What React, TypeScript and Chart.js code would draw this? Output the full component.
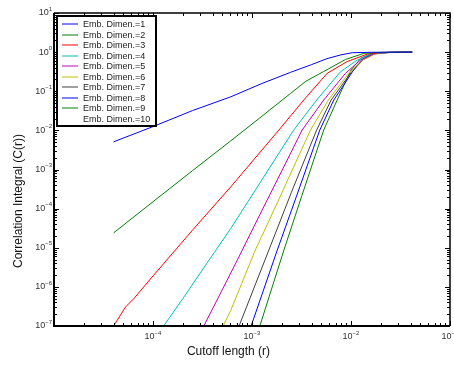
import React, { useEffect, useRef } from "react";
import { Chart, registerables } from "chart.js";

Chart.register(...registerables);

// ---- data (cutoff length r, correlation integral C(r)) ----
const seriesLabels = [
  "Emb. Dimen.=1",
  "Emb. Dimen.=2",
  "Emb. Dimen.=3",
  "Emb. Dimen.=4",
  "Emb. Dimen.=5",
  "Emb. Dimen.=6",
  "Emb. Dimen.=7",
  "Emb. Dimen.=8",
  "Emb. Dimen.=9",
  "Emb. Dimen.=10",
];
const seriesColors = [
  "#0000ff",
  "#008000",
  "#ff0000",
  "#00bfbf",
  "#bf00bf",
  "#bfbf00",
  "#404040",
  "#0000ff",
  "#008000",
  "#ffffff",
];

const dim1: [number, number][] = [
  [4.0e-5, 5.1e-3], [1.0e-4, 1.25e-2], [2.5e-4, 3.2e-2], [6.1e-4, 7.2e-2],
  [1.26e-3, 0.158], [2.45e-3, 0.304], [4.0e-3, 0.48], [5.7e-3, 0.68],
  [7.9e-3, 0.85], [1.03e-2, 0.966], [1.6e-2, 0.99], [2.5e-2, 0.998], [4.15e-2, 1.0],
];
const dim2: [number, number][] = [
  [4.0e-5, 2.4e-5], [1.0e-4, 1.5e-4], [2.5e-4, 9.3e-4], [6.1e-4, 5.4e-3],
  [1.26e-3, 2.3e-2], [2.45e-3, 8.8e-2], [3.5e-3, 0.18], [5.3e-3, 0.32],
  [8.8e-3, 0.65], [1.35e-2, 0.93], [2.0e-2, 0.985], [4.15e-2, 1.0],
];
const dim3: [number, number][] = [
  [4.0e-5, 1.0e-7], [5.3e-5, 3.1e-7], [6.4e-5, 5.0e-7], [1.0e-4, 1.9e-6],
  [2.5e-4, 2.8e-5], [6.1e-4, 3.6e-4], [1.87e-3, 1.02e-2], [3.33e-3, 5.96e-2],
  [5.75e-3, 0.288], [9.1e-3, 0.57], [1.46e-2, 0.89], [2.2e-2, 0.985], [4.15e-2, 1.0],
];
const dim4: [number, number][] = [
  [1.28e-4, 1.0e-7], [2.0e-4, 5.0e-7], [3.5e-4, 4.0e-6], [6.1e-4, 3.1e-5],
  [1.2e-3, 4.5e-4], [2.64e-3, 1.02e-2], [4.5e-3, 5.96e-2], [7.85e-3, 0.316],
  [1.16e-2, 0.63], [1.6e-2, 0.9], [2.3e-2, 0.985], [4.15e-2, 1.0],
];
const dim5: [number, number][] = [
  [3.26e-4, 1.0e-7], [7.1e-4, 4.8e-6], [1.2e-3, 7.0e-5], [2.0e-3, 9.2e-4],
  [3.21e-3, 1.02e-2], [5.3e-3, 5.96e-2], [8.8e-3, 0.288], [1.25e-2, 0.63],
  [1.7e-2, 0.9], [2.4e-2, 0.985], [4.15e-2, 1.0],
];
const dim6: [number, number][] = [
  [5.1e-4, 1.0e-7], [6.1e-4, 2.5e-7], [1.08e-3, 8.7e-6], [1.8e-3, 1.4e-4],
  [3.9e-3, 1.02e-2], [5.9e-3, 5.96e-2], [9.5e-3, 0.29], [1.3e-2, 0.62],
  [1.75e-2, 0.9], [2.5e-2, 0.985], [4.15e-2, 1.0],
];
const dim7: [number, number][] = [
  [7.4e-4, 1.0e-7], [1.48e-3, 8.7e-6], [2.5e-3, 2.6e-4], [4.5e-3, 1.02e-2],
  [6.3e-3, 5.96e-2], [1.0e-2, 0.3], [1.33e-2, 0.64], [1.75e-2, 0.91],
  [2.6e-2, 0.985], [4.15e-2, 1.0],
];
const dim8: [number, number][] = [
  [9.8e-4, 1.0e-7], [1.8e-3, 8.7e-6], [2.8e-3, 2.0e-4], [4.84e-3, 1.02e-2],
  [6.7e-3, 5.96e-2], [1.03e-2, 0.31], [1.3e-2, 0.66], [1.65e-2, 0.92],
  [2.5e-2, 0.985], [4.15e-2, 1.0],
];
const dim9: [number, number][] = [
  [1.2e-3, 1.0e-7], [2.1e-3, 8.7e-6], [3.2e-3, 2.2e-4], [5.3e-3, 1.02e-2],
  [7.25e-3, 5.96e-2], [1.0e-2, 0.35], [1.26e-2, 0.7], [1.6e-2, 0.92],
  [2.4e-2, 0.985], [4.15e-2, 1.0],
];
const dim10: [number, number][] = [];

const seriesData = [dim1, dim2, dim3, dim4, dim5, dim6, dim7, dim8, dim9, dim10];

const xTickExponents = [-4, -3, -2, -1];
const yTickExponents = [1, 0, -1, -2, -3, -4, -5, -6, -7];
const xTitle = "Cutoff length (r)";
const yTitle = "Correlation Integral (C(r))";

const X_MIN = 1e-5;
const X_MAX = 1e-1;
const Y_MIN = 1e-7;
const Y_MAX = 10;

const FONT = '"Liberation Sans", Arial, Helvetica, sans-serif';

const matlabPlugin = {
  id: "matlabFrame",
  afterDraw(chart: any) {
    const ctx: CanvasRenderingContext2D = chart.ctx;
    const { left, right, top, bottom } = chart.chartArea;
    const xs = chart.scales.x;
    const ys = chart.scales.y;
    ctx.save();

    // inner ticks
    ctx.strokeStyle = "#000";
    ctx.lineWidth = 1;
    for (let e = -5; e <= -1; e++) {
      for (let m = 1; m <= 9; m++) {
        const v = m * Math.pow(10, e);
        if (v < X_MIN * 0.999 || v > X_MAX * 1.001) continue;
        const px = Math.round(xs.getPixelForValue(v)) + 0.5;
        const len = m === 1 ? 5 : 3;
        ctx.beginPath();
        ctx.moveTo(px, bottom);
        ctx.lineTo(px, bottom - len);
        ctx.moveTo(px, top);
        ctx.lineTo(px, top + len);
        ctx.stroke();
      }
    }
    for (let e = -7; e <= 1; e++) {
      for (let m = 1; m <= 9; m++) {
        const v = m * Math.pow(10, e);
        if (v < Y_MIN * 0.999 || v > Y_MAX * 1.001) continue;
        const py = Math.round(ys.getPixelForValue(v)) + 0.5;
        const len = m === 1 ? 5 : 3;
        ctx.beginPath();
        ctx.moveTo(left, py);
        ctx.lineTo(left + len, py);
        ctx.moveTo(right, py);
        ctx.lineTo(right - len, py);
        ctx.stroke();
      }
    }

    // frame
    ctx.lineWidth = 1.5;
    ctx.beginPath();
    ctx.moveTo(left, top);
    ctx.lineTo(right, top);
    ctx.lineTo(right, bottom);
    ctx.stroke();
    ctx.lineWidth = 2;
    ctx.beginPath();
    ctx.moveTo(left, top);
    ctx.lineTo(left, bottom);
    ctx.lineTo(right, bottom);
    ctx.stroke();

    // tick labels with superscript exponents
    ctx.fillStyle = "#333";
    ctx.textBaseline = "middle";
    const baseFont = "9px " + FONT;
    const expFont = "6px " + FONT;
    yTickExponents.forEach((e) => {
      const py = ys.getPixelForValue(Math.pow(10, e));
      const expStr = String(e).replace("-", "\u2212");
      ctx.font = expFont;
      const we = ctx.measureText(expStr).width;
      ctx.font = baseFont;
      const wb = ctx.measureText("10").width;
      const rx = left - 2;
      ctx.textAlign = "left";
      ctx.fillText("10", rx - we - wb, py);
      ctx.font = expFont;
      ctx.fillText(expStr, rx - we, py - 4);
    });
    xTickExponents.forEach((e) => {
      const px = xs.getPixelForValue(Math.pow(10, e));
      const expStr = String(e).replace("-", "\u2212");
      ctx.font = expFont;
      const we = ctx.measureText(expStr).width;
      ctx.font = baseFont;
      const wb = ctx.measureText("10").width;
      const sx = px - (we + wb) / 2;
      const py = bottom + 11;
      ctx.textAlign = "left";
      ctx.fillText("10", sx, py);
      ctx.font = expFont;
      ctx.fillText(expStr, sx + wb, py - 4);
    });

    // axis titles
    ctx.fillStyle = "#111";
    ctx.font = "12px " + FONT;
    ctx.textAlign = "center";
    ctx.textBaseline = "middle";
    ctx.fillText(xTitle, left + 174.5, bottom + 26);
    ctx.save();
    ctx.translate(19, top + 188);
    ctx.rotate(-Math.PI / 2);
    ctx.fillText(yTitle, 0, 0);
    ctx.restore();

    // legend
    const lx = left + 3;
    const ly = top + 3;
    const lw = 99;
    const lh = 110;
    ctx.fillStyle = "#fff";
    ctx.fillRect(lx, ly, lw, lh);
    ctx.strokeStyle = "#000";
    ctx.lineWidth = 2;
    ctx.strokeRect(lx, ly, lw, lh);
    ctx.font = "9px " + FONT;
    ctx.textAlign = "left";
    ctx.textBaseline = "middle";
    chart.data.datasets.forEach((ds: any, i: number) => {
      const ry = Math.round(ly + 8 + i * 10.5);
      ctx.strokeStyle = ds.borderColor;
      ctx.lineWidth = 1;
      ctx.beginPath();
      ctx.moveTo(lx + 5, ry);
      ctx.lineTo(lx + 21, ry);
      ctx.stroke();
      ctx.fillStyle = "#222";
      ctx.fillText(ds.label, lx + 26, ry + 0.5);
    });

    ctx.restore();
  },
};

export default function App() {
  const canvasRef = useRef<HTMLCanvasElement | null>(null);

  useEffect(() => {
    const canvas = canvasRef.current;
    if (!canvas) return;
    const chart = new Chart(canvas, {
      type: "line",
      data: {
        datasets: seriesLabels.map((label, i) => ({
          label,
          data: seriesData[i].map(([x, y]) => ({ x, y })),
          borderColor: seriesColors[i],
          backgroundColor: seriesColors[i],
          borderWidth: 1,
          pointRadius: 0,
          tension: 0,
          fill: false,
        })),
      },
      options: {
        animation: false,
        responsive: false,
        devicePixelRatio: 1,
        layout: { padding: { left: 54, top: 13, right: 4, bottom: 41 } },
        scales: {
          x: { type: "logarithmic", min: X_MIN, max: X_MAX, display: false },
          y: { type: "logarithmic", min: Y_MIN, max: Y_MAX, display: false },
        },
        plugins: {
          legend: { display: false },
          tooltip: { enabled: false },
        },
      },
      plugins: [matlabPlugin],
    });
    return () => chart.destroy();
  }, []);

  return (
    <div style={{ position: "fixed", left: 0, top: 0, width: 454, height: 367, background: "#fff" }}>
      <canvas ref={canvasRef} width={454} height={367} style={{ width: 454, height: 367 }} />
    </div>
  );
}
